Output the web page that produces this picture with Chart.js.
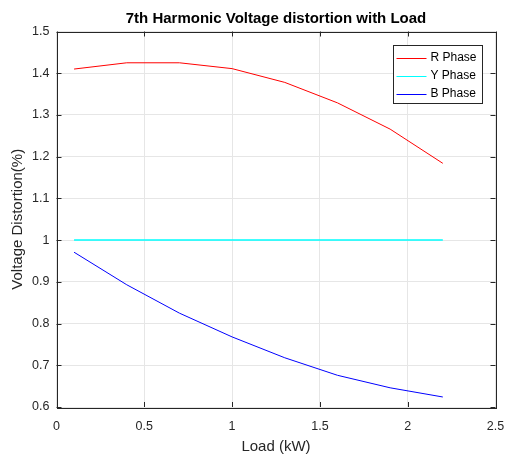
<!DOCTYPE html>
<html>
<head>
<meta charset="utf-8">
<script src="https://cdn.jsdelivr.net/npm/chart.js@4.4.1/dist/chart.umd.min.js"></script>
<style>
html,body{margin:0;padding:0;background:#fff;}
#wrap{width:505px;height:457px;}
</style>
</head>
<body>
<div id="wrap"><canvas id="c" width="505" height="457"></canvas></div>
<script>
const loads = [0.1, 0.4, 0.7, 1.0, 1.3, 1.6, 1.9, 2.2];
const rPhase = [1.410, 1.425, 1.425, 1.411, 1.378, 1.329, 1.266, 1.184];
const yPhase = [1.0, 1.0, 1.0, 1.0, 1.0, 1.0, 1.0, 1.0];
const bPhase = [0.971, 0.893, 0.825, 0.768, 0.718, 0.676, 0.646, 0.624];
const seriesNames = ['R Phase', 'Y Phase', 'B Phase'];
const xTicks = [0, 0.5, 1, 1.5, 2, 2.5];
const yTicks = [0.6, 0.7, 0.8, 0.9, 1.0, 1.1, 1.2, 1.3, 1.4, 1.5];
const chartTitle = '7th Harmonic Voltage distortion with Load';

const axisColor = '#262626';
const FONT = 'Liberation Sans, Arial, Helvetica, sans-serif';

function pts(vals){ return loads.map((x,i)=>({x:x, y:vals[i]})); }

const boxPlugin = {
  id: 'boxTicks',
  afterDatasetsDraw(chart){
    const {ctx, chartArea:a, scales:{x, y}} = chart;
    ctx.save();
    // title centred over the axes
    ctx.fillStyle = '#000';
    ctx.font = 'bold 15px ' + FONT;
    ctx.textAlign = 'center';
    ctx.textBaseline = 'middle';
    ctx.fillText(chartTitle, (a.left + a.right) / 2, 18.5);

    ctx.strokeStyle = axisColor;
    ctx.lineWidth = 1;
    const L = 5;
    ctx.beginPath();
    xTicks.forEach(v=>{
      const px = Math.round(x.getPixelForValue(v)) + 0.5;
      ctx.moveTo(px, a.bottom); ctx.lineTo(px, a.bottom - L);
      ctx.moveTo(px, a.top); ctx.lineTo(px, a.top + L);
    });
    yTicks.forEach(v=>{
      const py = Math.round(y.getPixelForValue(v)) + 0.5;
      ctx.moveTo(a.left, py); ctx.lineTo(a.left + L, py);
      ctx.moveTo(a.right, py); ctx.lineTo(a.right - L, py);
    });
    ctx.stroke();
    ctx.strokeRect(Math.round(a.left)+0.5, Math.round(a.top)+0.5, Math.round(a.right-a.left), Math.round(a.bottom-a.top));
    // legend box inside the axes
    const bx = 393.5, by = 45.5, bw = 89, bh = 58;
    ctx.fillStyle = '#fff';
    ctx.fillRect(bx, by, bw, bh);
    ctx.strokeStyle = '#262626';
    ctx.strokeRect(bx, by, bw, bh);
    ctx.font = '12px ' + FONT;
    ctx.textBaseline = 'middle';
    ctx.textAlign = 'left';
    chart.data.datasets.forEach((ds, i)=>{
      const ry = by + 12 + i*18;
      ctx.strokeStyle = ds.borderColor;
      ctx.lineWidth = 1;
      ctx.beginPath();
      ctx.moveTo(bx + 3, Math.round(ry)+0.5);
      ctx.lineTo(bx + 33, Math.round(ry)+0.5);
      ctx.stroke();
      ctx.fillStyle = '#000';
      ctx.fillText(ds.label, bx + 37, ry + 0.5);
    });
    ctx.restore();
  }
};

new Chart(document.getElementById('c'), {
  type: 'line',
  data: {
    datasets: [
      {label: seriesNames[0], data: pts(rPhase), borderColor: '#ff0000', borderWidth: 1, pointRadius: 0, tension: 0, fill: false},
      {label: seriesNames[1], data: pts(yPhase), borderColor: '#00ffff', borderWidth: 1.5, pointRadius: 0, tension: 0, fill: false},
      {label: seriesNames[2], data: pts(bPhase), borderColor: '#0000ff', borderWidth: 1, pointRadius: 0, tension: 0, fill: false}
    ]
  },
  options: {
    responsive: false,
    animation: false,
    devicePixelRatio: 1,
    layout: {padding: {left: 0, right: 9.5, top: 31.5, bottom: 0}},
    plugins: {
      legend: {display: false},
      tooltip: {enabled: false},
      title: {display: false}
    },
    scales: {
      x: {
        type: 'linear', min: 0, max: 2.5,
        afterBuildTicks(s){ s.ticks = xTicks.map(v=>({value:v})); },
        afterFit(s){ s.height = 50; s.paddingRight = 0; s.paddingLeft = 0; },
        ticks: {color: axisColor, font: {family: FONT, size: 12.5}, padding: 12, maxRotation: 0,
          callback: v => String(Number(v.toFixed(1)))},
        grid: {color: '#e6e6e6', drawTicks: false, tickLength: 0},
        border: {display: false},
        title: {display: true, text: 'Load (kW)', color: axisColor, font: {family: FONT, size: 15}, padding: {top: 0, bottom: 1}}
      },
      y: {
        type: 'linear', min: 0.6, max: 1.5,
        afterBuildTicks(s){ s.ticks = yTicks.map(v=>({value:v})); },
        afterFit(s){ s.width = 56.5; s.paddingTop = 0; s.paddingBottom = 0; },
        ticks: {color: axisColor, font: {family: FONT, size: 12.5}, padding: 7,
          callback: v => String(Number(v.toFixed(1)))},
        grid: {color: '#e6e6e6', drawTicks: false, tickLength: 0},
        border: {display: false},
        title: {display: true, text: 'Voltage Distortion(%)', color: axisColor, font: {family: FONT, size: 15}, padding: {top: 9, bottom: 0}}
      }
    }
  },
  plugins: [boxPlugin]
});
</script>
</body>
</html>
